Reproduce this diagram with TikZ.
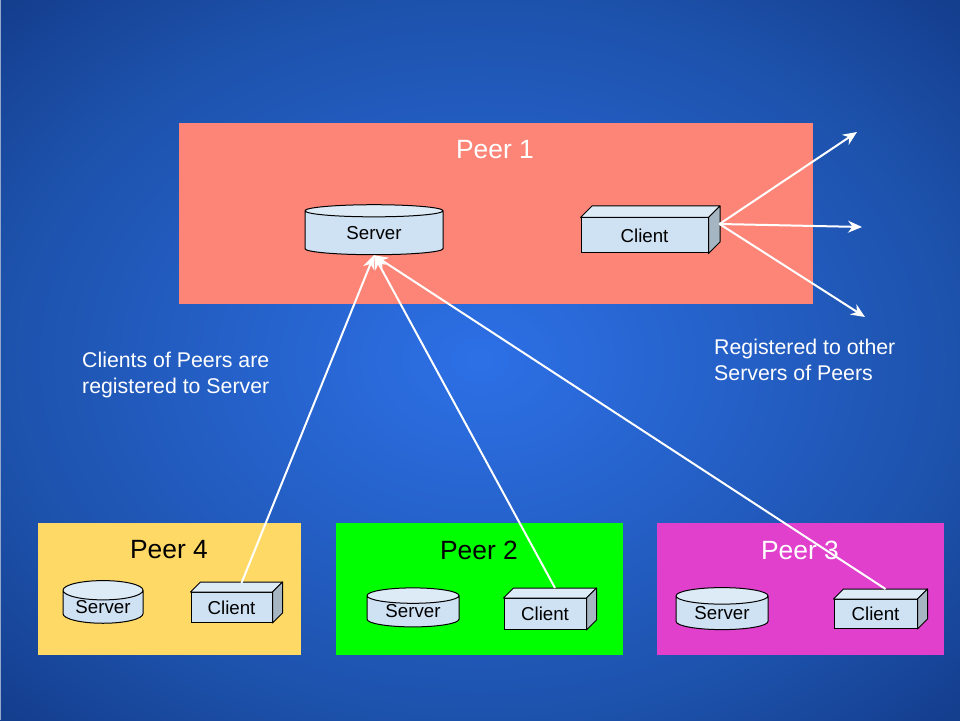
\documentclass[tikz,border=0pt]{standalone}
\usepackage{fontspec}
\setmainfont{Liberation Sans}
\usetikzlibrary{shapes.geometric,arrows.meta}
\definecolor{slidecore}{RGB}{45,112,230}
\definecolor{slidemid}{RGB}{29,82,172}
\definecolor{slideedge}{RGB}{20,62,142}
\definecolor{boxfront}{RGB}{207,226,243}
\definecolor{boxtop}{RGB}{221,235,247}
\definecolor{boxside}{RGB}{166,181,194}
\definecolor{peerred}{RGB}{252,133,120}
\definecolor{peeryellow}{RGB}{255,217,102}
\definecolor{peergreen}{RGB}{0,255,0}
\definecolor{peerpink}{RGB}{224,64,204}
\pgfdeclareradialshading{slideglow}{\pgfpointorigin}{color(0bp)=(slidecore); color(25bp)=(slidemid); color(35bp)=(slideedge); color(50bp)=(slideedge)}
\newcommand{\clientfaces}[2]{%
  \draw[fill=boxtop,line width=1pt,line join=round] (#1.north west) -- ++(#2,#2) -- ([shift={(#2,#2)}]#1.north east) -- (#1.north east) -- cycle;
  \draw[fill=boxside,line width=1pt,line join=round] (#1.north east) -- ++(#2,#2) -- ([shift={(#2,#2)}]#1.south east) -- (#1.south east) -- cycle;
}
\tikzset{
  peer/.style={inner sep=0pt},
  peer title/.style={font=\fontsize{26.4}{26.4}\selectfont,inner sep=0pt},
  note/.style={font=\fontsize{21.3}{26}\selectfont,text=white,align=left,anchor=north west,inner sep=0pt},
  server/.style={cylinder,shape border rotate=90,draw=black,line width=1pt,aspect=#1,cylinder uses custom fill,
    cylinder body fill=boxfront,cylinder end fill=boxtop,inner sep=0pt,text=black,font=\fontsize{18.7}{18.7}\selectfont},
  client/.style={draw=black,line width=1pt,fill=boxfront,inner sep=0pt,text=black,font=\fontsize{18.7}{18.7}\selectfont},
  wire/.style={draw=white,line width=2pt,-{Stealth[length=14pt,width=12pt]}}
}
\begin{document}
\begin{tikzpicture}[x=1pt,y=1pt]
  \shade[shading=slideglow] (0,0) rectangle (960,720);
  \fill[slideedge!45!white] (0,0) rectangle (1.2,720);
  \useasboundingbox (0,0) rectangle (960,720);

  % peers
  \node[peer,fill=peerred,minimum width=634pt,minimum height=181pt] (peer1) at (496,506.5) {};
  \node[peer,fill=peeryellow,minimum width=263pt,minimum height=132pt] (peer4) at (169.5,131) {};
  \node[peer,fill=peergreen,minimum width=287pt,minimum height=132pt] (peer2) at (479.5,131) {};
  \node[peer,fill=peerpink,minimum width=287pt,minimum height=132pt] (peer3) at (800.5,131) {};

  \node[peer title,text=white] (title1) at (495,570.5) {Peer 1};
  \node[peer title,text=black] (title4) at (169,170) {Peer 4};
  \node[peer title,text=black] (title2) at (479,170) {Peer 2};
  \node[peer title,text=white] (title3) at (800,170) {Peer 3};

  % servers
  \node[server=0.22,minimum width=138pt,minimum height=50pt] (srv1) at (374,487) {Server};
  \node[server=0.35,minimum width=80pt,minimum height=42pt] (srv4) at (103,113) {Server};
  \node[server=0.28,minimum width=92pt,minimum height=39pt] (srv2) at (413,108.5) {Server};
  \node[server=0.30,minimum width=92pt,minimum height=42pt] (srv3) at (722,107) {Server};

  % clients
  \node[client,minimum width=127pt,minimum height=35pt] (cl1) at (644.5,484.5) {Client};
  \node[client,minimum width=81pt,minimum height=30pt] (cl4) at (231.5,112.5) {Client};
  \node[client,minimum width=82pt,minimum height=31pt] (cl2) at (545,106) {Client};
  \node[client,minimum width=83pt,minimum height=29pt] (cl3) at (875.5,106) {Client};
  \clientfaces{cl1}{11.5}
  \clientfaces{cl4}{10}
  \clientfaces{cl2}{10}
  \clientfaces{cl3}{10}

  \coordinate (out1) at (857,588);
  \coordinate (out2) at (862,493);
  \coordinate (out3) at (865,403);
  \draw[wire] ([shift={(11,11.5)}]cl1.east) -- (out1);
  \draw[wire] ([shift={(11,11.5)}]cl1.east) -- (out2);
  \draw[wire] ([shift={(11,11.5)}]cl1.east) -- (out3);

  \draw[wire] ([shift={(10,9)}]cl4.north) -- (srv1.south);
  \draw[wire] ([shift={(10,10)}]cl2.north) -- (srv1.south);
  \draw[wire] ([shift={(10,10)}]cl3.north) -- (srv1.south);

  \node[note] (note1) at (82,368) {Clients of Peers are\\registered to Server};
  \node[note] (note2) at (714,381) {Registered to other\\Servers of Peers};
\end{tikzpicture}
\end{document}
